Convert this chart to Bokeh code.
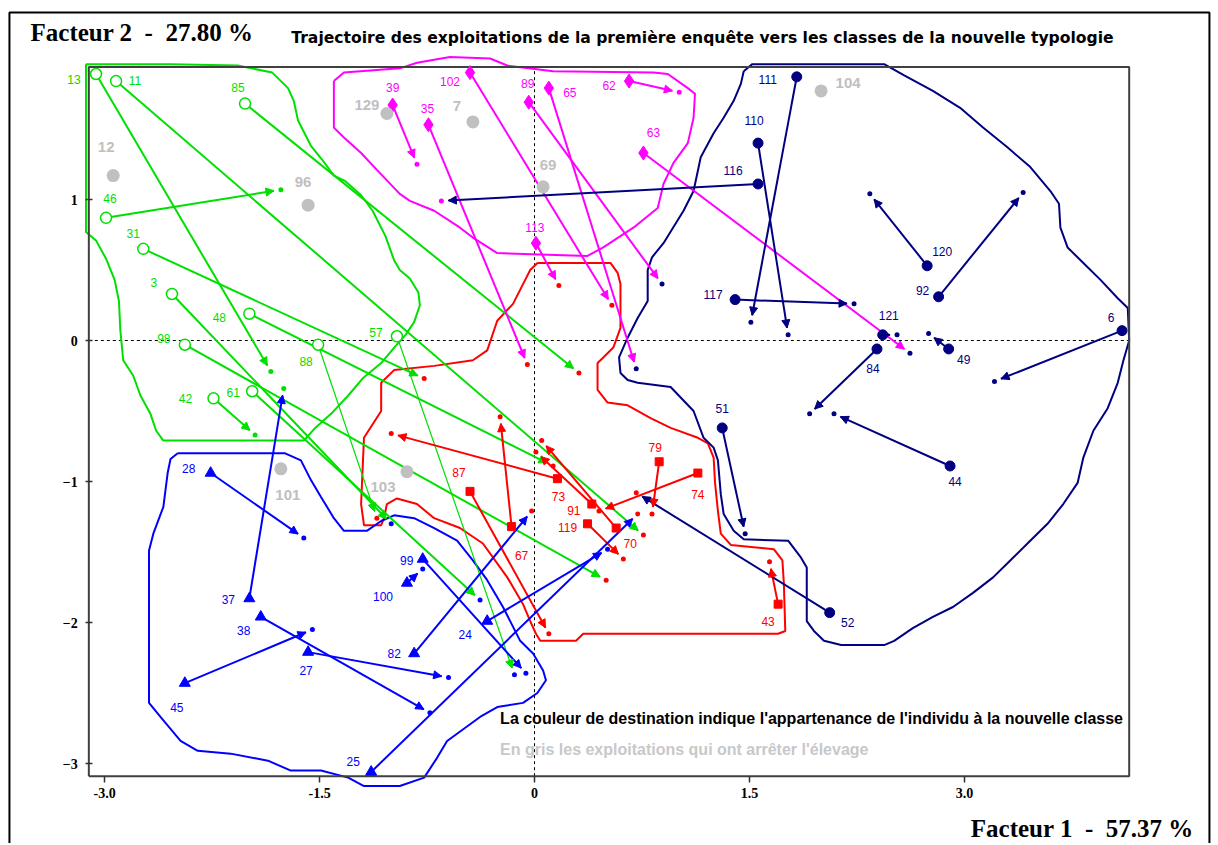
import math
from bokeh.plotting import figure
from bokeh.models import ColumnDataSource, Arrow, NormalHead, Label, FixedTicker
from bokeh.core.properties import value
from bokeh.embed import file_html
from bokeh.resources import INLINE

# ------------------------------------------------------------------ data
IDS = ["13", "11", "85", "46", "31", "3", "48", "98", "42", "61", "88", "57",
       "39", "35", "102", "89", "65", "62", "63", "113",
       "73", "91", "70", "119", "74", "79", "87", "67", "43",
       "28", "37", "38", "45", "27", "25", "82", "99", "100", "24",
       "111", "110", "116", "117", "120", "92", "121", "84", "49", "6", "44", "51", "52"]
CLASS_1 = ["G"] * 12 + ["M"] * 8 + ["R"] * 9 + ["B"] * 10 + ["N"] * 13
X1 = [-3.06, -2.92, -2.02, -2.99, -2.73, -2.53, -1.99, -2.44, -2.24, -1.97, -1.51, -0.96,
      -0.99, -0.74, -0.45, -0.04, 0.10, 0.66, 0.76, 0.01,
      0.16, 0.40, 0.57, 0.37, 1.14, 0.87, -0.45, -0.16, 1.70,
      -2.26, -1.99, -1.91, -2.44, -1.58, -1.14, -0.84, -0.78, -0.89, -0.33,
      1.83, 1.56, 1.56, 1.40, 2.74, 2.82, 2.43, 2.39, 2.89, 4.10, 2.90, 1.31, 2.06]
Y1 = [1.89, 1.84, 1.68, 0.87, 0.65, 0.33, 0.19, -0.03, -0.41, -0.36, -0.03, 0.03,
      1.67, 1.53, 1.90, 1.69, 1.79, 1.84, 1.33, 0.69,
      -0.98, -1.16, -1.33, -1.30, -0.94, -0.86, -1.07, -1.32, -1.87,
      -0.94, -1.83, -1.96, -2.43, -2.21, -3.06, -2.22, -1.55, -1.72, -1.99,
      1.87, 1.40, 1.11, 0.29, 0.53, 0.31, 0.04, -0.06, -0.06, 0.07, -0.89, -0.62, -1.93]
CLASS_2 = ["G", "R", "R", "G", "R", "B", "R", "R", "G", "B", "R", "B",
           "M", "R", "R", "N", "N", "M", "N", "R",
           "R", "R", "R", "R", "R", "R", "R", "R", "R",
           "B", "G", "B", "B", "B", "R", "R", "B", "B", "B",
           "N", "N", "M", "N", "N", "N", "N", "N", "N", "N", "N", "N", "R"]
X2 = [-1.84, 0.76, 0.31, -1.77, -0.77, -1.00, 0.13, 0.50, -1.95, -0.38, -1.10, -0.14,
      -0.82, -0.05, 0.54, 0.89, 0.71, 1.01, 2.62, 0.17,
      -1.00, 0.01, 0.05, 0.62, 0.45, 0.82, 0.10, -0.24, 1.64,
      -1.61, -1.75, -0.73, -1.55, -0.60, 0.72, -0.02, -0.06, -0.78, 0.51,
      1.51, 1.77, -0.65, 2.23, 2.34, 3.41, 2.53, 1.92, 2.75, 3.21, 2.09, 1.47, 0.71]
Y2 = [-0.22, -1.38, -0.23, 1.07, -0.27, -1.30, -0.89, -1.70, -0.67, -1.84, -1.26, -2.37,
      1.25, -0.17, 0.25, 0.40, -0.20, 1.76, -0.09, 0.39,
      -0.66, -0.79, -0.71, -1.55, -1.21, -1.23, -2.08, -0.54, -1.57,
      -1.40, -0.34, -2.64, -2.05, -2.39, -1.23, -1.21, -2.36, -1.62, -1.48,
      0.13, 0.04, 0.99, 0.26, 1.04, 1.05, 0.04, -0.52, 0.05, -0.29, -0.52, -1.37, -1.08]

# exploitations that stopped farming (grey)
GONE_ID = ["129", "7", "69", "104", "12", "96", "101", "103"]
GONE_X = [-1.03, -0.43, 0.06, 2.00, -2.94, -1.58, -1.77, -0.89]
GONE_Y = [1.61, 1.55, 1.09, 1.77, 1.17, 0.96, -0.91, -0.93]

# class envelopes
ENV_G_X = [-3.13, -2.54, -2.07, -1.83, -1.72, -1.68, -1.65, -1.61, -1.56, -1.48, -1.40, -1.32, -1.21, -1.13,
           -1.04, -0.98, -0.94, -0.87, -0.81, -0.80, -0.84, -0.90, -0.97, -1.07, -1.20, -1.30, -1.41, -1.53,
           -1.61, -2.59, -2.64, -2.68, -2.75, -2.80, -2.87, -2.89, -2.90, -2.93, -2.99, -3.06, -3.13]
ENV_G_Y = [1.96, 1.96, 1.95, 1.90, 1.79, 1.70, 1.56, 1.48, 1.38, 1.28, 1.17, 1.13, 1.03, 0.92,
           0.74, 0.57, 0.50, 0.44, 0.34, 0.25, 0.13, 0.04, -0.04, -0.16, -0.27, -0.39, -0.51, -0.62,
           -0.71, -0.71, -0.64, -0.52, -0.39, -0.25, -0.14, 0.07, 0.28, 0.43, 0.58, 0.71, 0.77]
ENV_M_X = [-1.40, -1.33, -0.94, -0.82, -0.59, -0.31, -0.19, 0.13, 0.83, 0.93, 1.07, 1.12, 1.11, 1.07, 0.97,
           0.90, 0.86, 0.69, 0.48, 0.37, -0.26, -0.43, -0.52, -0.70, -0.87, -0.94, -1.10, -1.21, -1.33, -1.40]
ENV_M_Y = [1.84, 1.90, 1.93, 1.97, 2.01, 2.00, 1.95, 1.91, 1.90, 1.89, 1.79, 1.75, 1.58, 1.40, 1.26,
           1.11, 0.94, 0.80, 0.66, 0.60, 0.62, 0.73, 0.80, 0.92, 0.99, 1.04, 1.21, 1.33, 1.44, 1.51]
ENV_R_X = [0.02, 0.53, 0.58, 0.60, 0.60, 0.55, 0.48, 0.44, 0.44, 0.51, 0.65, 0.81, 0.95, 1.14, 1.21, 1.25,
           1.26, 1.28, 1.30, 1.37, 1.67, 1.73, 1.74, 1.75, 1.70, 0.34, 0.29, 0.04, 0.01, -0.03, -0.08, -0.19,
           -0.36, -0.52, -0.70, -0.82, -0.96, -1.03, -1.05, -1.07, -1.19, -1.21, -1.19, -1.07, -1.07, -0.98,
           -0.70, -0.43, -0.33, -0.26, -0.15, -0.08, -0.03]
ENV_R_Y = [0.55, 0.55, 0.48, 0.40, 0.09, -0.05, -0.12, -0.16, -0.35, -0.44, -0.46, -0.55, -0.62, -0.69,
           -0.73, -0.83, -1.01, -1.21, -1.37, -1.45, -1.48, -1.56, -1.72, -2.06, -2.08, -2.08, -2.13, -2.13,
           -2.08, -1.99, -1.87, -1.68, -1.44, -1.33, -1.26, -1.16, -1.12, -1.16, -1.26, -1.31, -1.31, -1.16,
           -0.69, -0.50, -0.30, -0.21, -0.18, -0.14, -0.07, 0.14, 0.26, 0.40, 0.50]
ENV_B_X = [-2.49, -1.74, -1.63, -1.56, -1.49, -1.40, -1.33, -1.17, -1.07, -0.98, -0.84, -0.70, -0.54, -0.43,
           -0.33, -0.22, -0.10, -0.01, 0.06, 0.08, 0.02, -0.08, -0.26, -0.38, -0.61, -0.68, -0.77, -0.94,
           -1.19, -1.30, -1.49, -1.70, -1.86, -2.12, -2.35, -2.47, -2.61, -2.69, -2.69, -2.66, -2.59, -2.56,
           -2.54]
ENV_B_Y = [-0.80, -0.80, -0.85, -0.99, -1.11, -1.26, -1.35, -1.35, -1.28, -1.24, -1.26, -1.33, -1.42, -1.56,
           -1.70, -1.89, -2.13, -2.22, -2.34, -2.41, -2.50, -2.57, -2.60, -2.67, -2.84, -2.96, -3.10, -3.16,
           -3.16, -3.10, -3.05, -3.05, -2.98, -2.93, -2.91, -2.84, -2.67, -2.57, -1.49, -1.37, -1.18, -0.94,
           -0.84]
ENV_N_X = [1.46, 1.52, 2.44, 2.58, 2.78, 2.97, 3.13, 3.30, 3.46, 3.60, 3.66, 3.67, 3.72, 3.83, 3.95, 4.07,
           4.14, 4.15, 4.11, 4.07, 4.00, 3.90, 3.83, 3.79, 3.69, 3.58, 3.44, 3.32, 3.20, 3.06, 2.92, 2.78,
           2.64, 2.51, 2.44, 2.14, 2.02, 1.95, 1.90, 1.90, 1.86, 1.77, 1.46, 1.39, 1.32, 1.30, 1.28, 1.25,
           1.18, 1.11, 0.95, 0.72, 0.65, 0.60, 0.59, 0.65, 0.72, 0.79, 0.79, 0.82, 0.90, 1.04, 1.11, 1.16,
           1.25, 1.32, 1.39, 1.44]
ENV_N_Y = [1.91, 1.96, 1.96, 1.88, 1.77, 1.65, 1.51, 1.37, 1.23, 1.06, 0.97, 0.80, 0.66, 0.55, 0.43, 0.30,
           0.23, 0.00, -0.14, -0.30, -0.48, -0.64, -0.83, -1.01, -1.16, -1.30, -1.44, -1.56, -1.68, -1.79,
           -1.89, -1.96, -2.04, -2.13, -2.16, -2.16, -2.13, -2.06, -1.99, -1.61, -1.54, -1.42, -1.41, -1.35,
           -1.23, -1.09, -0.85, -0.76, -0.69, -0.50, -0.33, -0.30, -0.28, -0.23, -0.12, 0.02, 0.16, 0.28,
           0.50, 0.59, 0.69, 0.92, 1.06, 1.30, 1.47, 1.58, 1.70, 1.82]

X_TICKS = [-3.0, -1.5, 0.0, 1.5, 3.0]
X_TICK_LABELS = ["-3.0", "-1.5", "0", "1.5", "3.0"]
Y_TICKS = [1, 0, -1, -2, -3]

# ------------------------------------------------------------------ styles / layout
COLORS = {"G": "#00e000", "M": "#ff00ff", "R": "#ff0000", "B": "#0000ff", "N": "#000080"}
GREY = "#c0c0c0"
THIN = {"88", "57"}
LABEL_OFFSET = {
    "13": (-22, 5), "11": (19, -1), "85": (-7, -16), "46": (4, -19), "31": (-10, -15), "3": (-18, -11),
    "48": (-30, 4), "98": (-21, -6), "42": (-28, 0), "61": (-19, 1), "88": (-12, 17), "57": (-21, -4),
    "39": (0, -18), "35": (-1, -16), "102": (-20, 9), "89": (-1, -19), "65": (21, 4), "62": (-20, 4),
    "63": (10, -20), "113": (-1, -16),
    "73": (1, 18), "91": (-18, 6), "70": (14, 15), "119": (-20, 4), "74": (0, 21), "79": (-4, -14),
    "87": (-11, -19), "67": (10, 29), "43": (-10, 17),
    "28": (-22, -5), "37": (-21, 1), "38": (-17, 14), "45": (-8, 24), "27": (-2, 18), "25": (-18, -10),
    "82": (-20, 0), "99": (-16, 1), "100": (-24, 13), "24": (-22, 13),
    "111": (-29, 3), "110": (-4, -23), "116": (-25, -13), "117": (-22, -5), "120": (15, -14),
    "92": (-16, -6), "121": (6, -19), "84": (-4, 20), "49": (15, 11), "6": (-11, -13), "44": (5, 16),
    "51": (0, -19), "52": (18, 10)}
GONE_OFFSET = {"129": (-20, -8), "7": (-16, -16), "69": (5, -22), "104": (27, -8), "12": (-7, -29),
               "96": (-5, -23), "101": (7, 26), "103": (-24, 15)}
MARKERS = {"G": ("circle", 11), "M": ("diamond", 14), "R": ("square", 8), "B": ("triangle", 11),
           "N": ("circle", 10)}

FW, FH = 1216, 843
SX, SY = 143.3, 141.0
XR0 = -534 / SX
XR1 = XR0 + FW / SX
YR1 = 340 / SY
YR0 = YR1 - FH / SY
AX_X0, AX_X1 = -3.11, 4.15
AX_Y0, AX_Y1 = -3.09, 1.94
OUTER_L, OUTER_R, OUTER_T, OUTER_B = -3.664, 4.710, 2.326, -3.70

p = figure(frame_width=FW, frame_height=FH, x_range=(XR0, XR1), y_range=(YR0, YR1), title=None,
           min_border=0, min_border_left=0, min_border_right=0, min_border_top=0, min_border_bottom=0,
           output_backend="svg", toolbar_location=None)
p.outline_line_color = None
p.xgrid.visible = False
p.ygrid.visible = False
p.background_fill_color = "white"
p.border_fill_color = "white"

for ax in (p.xaxis[0], p.yaxis[0]):
    ax.axis_line_color = None
    ax.minor_tick_line_color = None
    ax.major_tick_line_color = "#303030"
    ax.major_tick_line_width = 1.5
    ax.major_label_text_font = "Liberation Serif"
    ax.major_label_text_font_style = "bold"
    ax.major_label_text_font_size = "14px"
    ax.major_label_text_color = "black"
p.xaxis.fixed_location = AX_Y0
p.yaxis.fixed_location = AX_X0
p.xaxis.ticker = FixedTicker(ticks=X_TICKS)
p.xaxis.major_label_overrides = {t: l for t, l in zip(X_TICKS, X_TICK_LABELS)}
p.yaxis.ticker = FixedTicker(ticks=Y_TICKS)
p.xaxis.major_tick_in = 0
p.xaxis.major_tick_out = 6
p.xaxis.major_label_standoff = 6
p.yaxis.major_tick_in = 4
p.yaxis.major_tick_out = 3
p.yaxis.major_label_standoff = 8

# outer page frame
p.line([OUTER_L, OUTER_L, OUTER_R, OUTER_R], [OUTER_B, OUTER_T, OUTER_T, OUTER_B],
       line_color="black", line_width=2)

# zero lines
p.segment(x0=[AX_X0, 0], y0=[0, AX_Y0], x1=[AX_X1, 0], y1=[0, AX_Y1],
          line_color="black", line_width=1, line_dash="3 3")

# envelopes
for ex, ey, c in [(ENV_G_X, ENV_G_Y, "G"), (ENV_M_X, ENV_M_Y, "M"), (ENV_R_X, ENV_R_Y, "R"),
                  (ENV_B_X, ENV_B_Y, "B"), (ENV_N_X, ENV_N_Y, "N")]:
    p.line(ex + [ex[0]], ey + [ey[0]], line_color=COLORS[c], line_width=2)

# plot box
p.line([AX_X0, AX_X1, AX_X1, AX_X0, AX_X0], [AX_Y0, AX_Y0, AX_Y1, AX_Y1, AX_Y0],
       line_color="#404040", line_width=2)


def shorten(xs, ys, xe, ye, gap):
    dx = (xe - xs) * SX
    dy = (ye - ys) * SY
    L = math.hypot(dx, dy)
    f = max(L - gap, 0.0) / L if L > 0 else 0.0
    return xs + (xe - xs) * f, ys + (ye - ys) * f


# trajectories
for cls in ["G", "M", "R", "B", "N"]:
    idx = [i for i, c in enumerate(CLASS_1) if c == cls]
    col = COLORS[cls]
    for thin in (False, True):
        sel = [i for i in idx if (IDS[i] in THIN) == thin]
        if not sel:
            continue
        ends = [shorten(X1[i], Y1[i], X2[i], Y2[i], 7) for i in sel]
        src = ColumnDataSource(dict(xs=[X1[i] for i in sel], ys=[Y1[i] for i in sel],
                                    xe=[e[0] for e in ends], ye=[e[1] for e in ends]))
        p.segment(x0="xs", y0="ys", x1="xe", y1="ye", source=src, line_color=col,
                  line_width=1.2 if thin else 2)
        p.add_layout(Arrow(end=NormalHead(size=8, fill_color=col, line_color=col, line_width=1),
                           x_start="xs", y_start="ys", x_end="xe", y_end="ye", source=src,
                           line_alpha=0))

# destination dots
p.scatter(X2, Y2, marker="circle", size=5, line_color=None,
          fill_color=[COLORS[c] for c in CLASS_2])

# start markers
for cls in ["G", "M", "R", "B", "N"]:
    idx = [i for i, c in enumerate(CLASS_1) if c == cls]
    mk, sz = MARKERS[cls]
    col = COLORS[cls]
    if cls == "G":
        p.scatter([X1[i] for i in idx], [Y1[i] for i in idx], marker=mk, size=sz,
                  fill_color="white", line_color=col, line_width=1.5)
    else:
        p.scatter([X1[i] for i in idx], [Y1[i] for i in idx], marker=mk, size=sz,
                  fill_color=col, line_color=col, line_width=1)

# grey (stopped) exploitations
p.scatter(GONE_X, GONE_Y, marker="circle", size=13, fill_color=GREY, line_color=None)
p.text(GONE_X, GONE_Y, text=GONE_ID,
       x_offset=[GONE_OFFSET[g][0] for g in GONE_ID], y_offset=[GONE_OFFSET[g][1] for g in GONE_ID],
       text_font=value("Liberation Sans"), text_font_style="bold", text_font_size="15px",
       text_color=GREY, text_align="center", text_baseline="middle")

# point labels
p.text(X1, Y1, text=IDS,
       x_offset=[LABEL_OFFSET[k][0] for k in IDS], y_offset=[LABEL_OFFSET[k][1] for k in IDS],
       text_font=value("Liberation Sans"), text_font_size="12px",
       text_color=[COLORS[c] for c in CLASS_1], text_align="center", text_baseline="middle")

# notes
p.add_layout(Label(x=-0.24, y=-2.68,
                   text="La couleur de destination indique l'appartenance de l'individu à la nouvelle classe",
                   text_font="Liberation Sans", text_font_style="bold", text_font_size="16px",
                   text_color="black", text_baseline="middle"))
p.add_layout(Label(x=-0.24, y=-2.90, text="En gris les exploitations qui ont arrêter l'élevage",
                   text_font="Liberation Sans", text_font_style="bold", text_font_size="16px",
                   text_color="#c8c8c8", text_baseline="middle"))

# titles
p.add_layout(Label(x=-3.517, y=2.184, text="Facteur 2\u00a0 -\u00a0 27.80 %", text_font="Liberation Serif",
                   text_font_style="bold", text_font_size="25px", text_color="black",
                   text_baseline="middle"))
p.add_layout(Label(x=1.172, y=2.142,
                   text="Trajectoire des exploitations de la première enquête vers les classes de la nouvelle typologie",
                   text_font="DejaVu Sans", text_font_style="bold", text_font_size="15.6px",
                   text_color="black", text_align="center", text_baseline="middle"))
p.add_layout(Label(x=4.60, y=-3.461, text="Facteur 1\u00a0 -\u00a0 57.37 %", text_font="Liberation Serif",
                   text_font_style="bold", text_font_size="25px", text_color="black",
                   text_align="right", text_baseline="middle"))

open("out.html", "w").write(file_html(p, INLINE))
